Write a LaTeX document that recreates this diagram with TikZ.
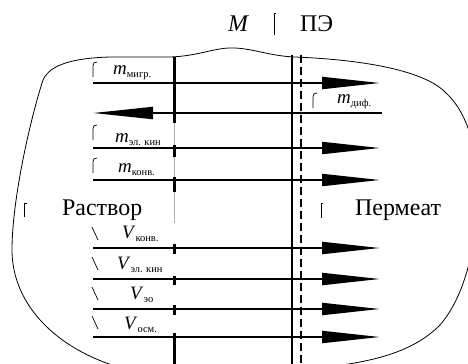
\documentclass[tikz,border=0pt]{standalone}
\usepackage{fontspec}
\setmainfont{Liberation Serif}
\usetikzlibrary{arrows.meta}

\newcommand{\fluxlbl}[2]{\textit{#1}\raisebox{-0.35ex}{\fontsize{10.5}{10.5}\selectfont #2}}

\tikzset{
  flow/.style={line width=2bp, -{Triangle[length=58bp, width=12bp]}},
  flowback/.style={line width=2bp, {Triangle[length=60bp, width=12bp]}-},
  wall/.style={line width=3bp},
  anchormark/.style={line width=0.7bp},
  lbl/.style={inner sep=0pt, anchor=base west, font=\fontsize{19}{19}\selectfont},
  side/.style={inner sep=0pt, anchor=base west, font=\fontsize{24}{24}\selectfont},
}

\begin{document}
\begin{tikzpicture}[x=1bp, y=-1bp]
  \useasboundingbox (0,0) rectangle (468,363);
  \clip (0,0) rectangle (468,363);

  %% Header
  \node[side] (memM) at (228,31) {\textit{M}};
  \node[side] (memPE) at (300,31) {ПЭ};
  \draw[anchormark] (274,35) -- (274,13) -- (276,13);

  %% Cell outline
  \draw[line width=0.8bp]
    (115,366) .. controls (50,345) and (12,300) .. (12,250)
    .. controls (12,200) and (30,120) .. (43,80)
    .. controls (50,64) and (75,58) .. (110,57)
    -- (170,57)
    .. controls (200,56) and (215,47) .. (235,48)
    .. controls (255,49) and (270,56) .. (295,57)
    .. controls (370,60) and (425,72) .. (445,92)
    .. controls (465,110) and (476,140) .. (477,185)
    .. controls (478,230) and (470,290) .. (440,325)
    .. controls (415,350) and (380,360) .. (335,366);

  %% Membrane M (broken in the middle)
  \draw[wall] (174,57) -- (174,123);
  \draw[gray!60, line width=0.6bp] (174,123) -- (174,223);
  \draw[wall] (174,145) -- (174,157);
  \draw[wall] (174,177) -- (174,192);
  \draw[wall] (174,244) -- (174,254);
  \draw[wall] (174,276) -- (174,285);
  \draw[wall] (174,305) -- (174,315);
  \draw[wall] (174,333) -- (174,366);

  %% Membrane PE: solid + dashed
  \draw[line width=2.5bp] (292,55) -- (292,366);
  \draw[line width=2.5bp, dash pattern=on 8bp off 4bp] (301,55) -- (301,366);

  %% Flux arrows
  \coordinate (mig-a) at (93,83);   \coordinate (mig-b) at (380,83);
  \coordinate (dif-a) at (93,113);  \coordinate (dif-b) at (382,113);
  \coordinate (ekm-a) at (93,148);  \coordinate (ekm-b) at (380,148);
  \coordinate (kvm-a) at (93,180);  \coordinate (kvm-b) at (380,180);
  \coordinate (kvv-a) at (93,248);  \coordinate (kvv-b) at (380,248);
  \coordinate (ekv-a) at (93,279);  \coordinate (ekv-b) at (380,279);
  \coordinate (eo-a)  at (93,309);  \coordinate (eo-b)  at (380,309);
  \coordinate (osm-a) at (93,337);  \coordinate (osm-b) at (380,337);

  \draw[flow] (mig-a) -- (mig-b);
  \draw[flowback] (dif-a) -- (dif-b);
  \draw[flow] (ekm-a) -- (ekm-b);
  \draw[flow] (kvm-a) -- (kvm-b);
  \draw[flow] (kvv-a) -- (kvv-b);
  \draw[flow] (ekv-a) -- (ekv-b);
  \draw[flow] (eo-a) -- (eo-b);
  \draw[flow] (osm-a) -- (osm-b);

  %% Flux labels
  \node[lbl] (lmig) at (113,74) {\fluxlbl{m}{мигр.}};
  \node[lbl] (ldif) at (337,103) {\fluxlbl{m}{диф.}};
  \node[lbl] (lekm) at (115,142) {\fluxlbl{m}{эл. кин}};
  \node[lbl] (lkvm) at (118,172) {\fluxlbl{m}{конв.}};
  \node[lbl] (lkvv) at (122,238) {\fluxlbl{V}{конв.}};
  \node[lbl] (lekv) at (117,269) {\fluxlbl{V}{эл. кин}};
  \node[lbl] (leo)  at (130,299) {\fluxlbl{V}{эо}};
  \node[lbl] (losm) at (124,329) {\fluxlbl{V}{осм.}};

  %% Text-box anchors
  \draw[anchormark] (93,77) -- (93,66) .. controls (93,63) and (94,62) .. (97,62);
  \draw[anchormark] (93,140) -- (93,129) .. controls (93,126) and (94,125) .. (97,125);
  \draw[anchormark] (93,173) -- (93,162) .. controls (93,159) and (94,158) .. (97,158);
  \draw[anchormark] (313,108) -- (313,97) .. controls (313,94) and (314,93) .. (317,93);
  \draw[anchormark] (92,227) -- (98,240);
  \draw[anchormark] (92,257) -- (98,270);
  \draw[anchormark] (92,287) -- (98,300);
  \draw[anchormark] (92,316) -- (98,329);
  \draw[anchormark, line width=1bp] (24,217) -- (24,203) -- (27,203);
  \draw[anchormark, line width=1bp] (321,218) -- (321,203) -- (323,203);

  %% Compartments
  \node[side] (sol) at (62,215) {Раствор};
  \node[side] (perm) at (355,215) {Пермеат};

\end{tikzpicture}
\end{document}
